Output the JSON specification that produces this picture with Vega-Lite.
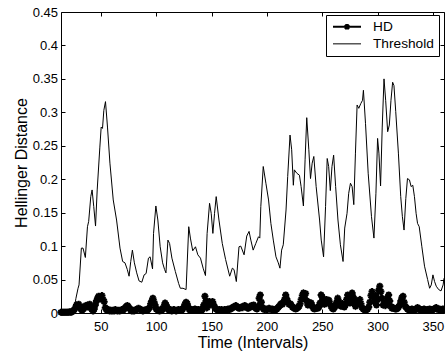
{
  "$schema": "https://vega.github.io/schema/vega-lite/v6.json",
  "width": 383,
  "height": 301,
  "autosize": {"type": "none"},
  "padding": {"left": 61, "top": 12, "right": 1, "bottom": 41},
  "config": {
    "font": "Liberation Sans",
    "view": {"stroke": "black", "strokeWidth": 1},
    "axis": {
      "grid": false,
      "domain": false,
      "tickColor": "black",
      "tickSize": -4,
      "tickWidth": 1,
      "labelColor": "black",
      "labelFont": "Liberation Sans",
      "labelFontSize": 13,
      "titleFont": "Liberation Sans",
      "titleFontSize": 16,
      "titleFontWeight": "normal",
      "titleColor": "black"
    }
  },
  "datasets": {
    "th": [
      {"t":14,"v":0.001},{"t":18,"v":0.001},{"t":22,"v":0.001},{"t":24,"v":0.002},{"t":25,"v":0.004},{"t":26.5,"v":0.012},{"t":27.5,"v":0.022},{"t":29.4,"v":0.037},{"t":30.3,"v":0.042},{"t":32.4,"v":0.097},{"t":33.9,"v":0.097},{"t":36,"v":0.083},{"t":37.9,"v":0.129},{"t":39,"v":0.137},{"t":40.9,"v":0.174},{"t":42.1,"v":0.184},{"t":43.6,"v":0.159},{"t":45.2,"v":0.13},{"t":46.7,"v":0.184},{"t":49.1,"v":0.248},{"t":50.3,"v":0.278},{"t":51.5,"v":0.276},{"t":52.7,"v":0.303},{"t":54.2,"v":0.316},{"t":56,"v":0.278},{"t":58.2,"v":0.224},{"t":61.2,"v":0.169},{"t":64.2,"v":0.139},{"t":67.3,"v":0.097},{"t":69.7,"v":0.077},{"t":71.8,"v":0.075},{"t":73.9,"v":0.065},{"t":75.5,"v":0.055},{"t":77,"v":0.077},{"t":78.5,"v":0.094},{"t":80.3,"v":0.075},{"t":82.4,"v":0.06},{"t":84.5,"v":0.048},{"t":87,"v":0.046},{"t":89.1,"v":0.057},{"t":90.9,"v":0.059},{"t":93,"v":0.082},{"t":94.5,"v":0.084},{"t":96.7,"v":0.066},{"t":97.6,"v":0.119},{"t":99.7,"v":0.16},{"t":101.5,"v":0.139},{"t":103.6,"v":0.099},{"t":105.8,"v":0.075},{"t":107.6,"v":0.065},{"t":108.8,"v":0.06},{"t":110.6,"v":0.109},{"t":112.1,"v":0.104},{"t":114.2,"v":0.082},{"t":117.3,"v":0.062},{"t":120.3,"v":0.044},{"t":121.8,"v":0.037},{"t":124.2,"v":0.037},{"t":127,"v":0.035},{"t":129.4,"v":0.129},{"t":130.9,"v":0.112},{"t":133,"v":0.093},{"t":135.5,"v":0.099},{"t":137.6,"v":0.087},{"t":140,"v":0.082},{"t":142.4,"v":0.067},{"t":144.5,"v":0.056},{"t":146,"v":0.119},{"t":148.2,"v":0.164},{"t":149.7,"v":0.149},{"t":151.2,"v":0.119},{"t":152.7,"v":0.149},{"t":154.2,"v":0.174},{"t":156.7,"v":0.139},{"t":159.7,"v":0.104},{"t":162.7,"v":0.08},{"t":166.4,"v":0.055},{"t":168.8,"v":0.067},{"t":170.3,"v":0.065},{"t":172.4,"v":0.047},{"t":174.8,"v":0.099},{"t":176.4,"v":0.1},{"t":179.4,"v":0.087},{"t":181.8,"v":0.115},{"t":183.9,"v":0.122},{"t":185.5,"v":0.109},{"t":187.6,"v":0.094},{"t":190,"v":0.104},{"t":192.4,"v":0.114},{"t":193.6,"v":0.112},{"t":194.5,"v":0.159},{"t":196.7,"v":0.219},{"t":199.1,"v":0.194},{"t":201.5,"v":0.169},{"t":203.6,"v":0.134},{"t":205.8,"v":0.109},{"t":208.2,"v":0.084},{"t":210.3,"v":0.075},{"t":211.8,"v":0.067},{"t":213.3,"v":0.094},{"t":214.8,"v":0.102},{"t":217.3,"v":0.154},{"t":218.8,"v":0.204},{"t":220.9,"v":0.266},{"t":222.4,"v":0.244},{"t":223.9,"v":0.191},{"t":224.8,"v":0.214},{"t":227,"v":0.209},{"t":229.4,"v":0.206},{"t":230.9,"v":0.189},{"t":233,"v":0.16},{"t":234.5,"v":0.229},{"t":236,"v":0.292},{"t":237.9,"v":0.244},{"t":239.4,"v":0.201},{"t":240.9,"v":0.224},{"t":242.4,"v":0.234},{"t":244.5,"v":0.189},{"t":247.6,"v":0.139},{"t":249.1,"v":0.109},{"t":251.2,"v":0.084},{"t":253,"v":0.159},{"t":254.5,"v":0.231},{"t":255.8,"v":0.219},{"t":257.3,"v":0.183},{"t":258.8,"v":0.219},{"t":260.3,"v":0.236},{"t":262.1,"v":0.189},{"t":264.2,"v":0.139},{"t":266.4,"v":0.102},{"t":268.8,"v":0.077},{"t":270.3,"v":0.127},{"t":272.4,"v":0.149},{"t":273.9,"v":0.179},{"t":275.5,"v":0.194},{"t":277,"v":0.189},{"t":278.5,"v":0.162},{"t":280,"v":0.239},{"t":281.5,"v":0.311},{"t":283,"v":0.306},{"t":284.8,"v":0.313},{"t":286.4,"v":0.318},{"t":287.2,"v":0.333},{"t":289.1,"v":0.283},{"t":291.5,"v":0.209},{"t":294.5,"v":0.144},{"t":296.7,"v":0.112},{"t":298.5,"v":0.179},{"t":300,"v":0.261},{"t":301.2,"v":0.239},{"t":302.7,"v":0.19},{"t":304.2,"v":0.278},{"t":305.8,"v":0.35},{"t":307.3,"v":0.318},{"t":309.1,"v":0.271},{"t":310.6,"v":0.281},{"t":312.1,"v":0.318},{"t":313.6,"v":0.345},{"t":314.8,"v":0.34},{"t":316.4,"v":0.301},{"t":318.8,"v":0.239},{"t":320.9,"v":0.174},{"t":322.4,"v":0.144},{"t":323.9,"v":0.124},{"t":325.5,"v":0.171},{"t":327,"v":0.201},{"t":328.8,"v":0.199},{"t":330.3,"v":0.189},{"t":331.8,"v":0.191},{"t":333.3,"v":0.174},{"t":334.8,"v":0.149},{"t":336.1,"v":0.134},{"t":337.6,"v":0.129},{"t":340,"v":0.099},{"t":342.4,"v":0.07},{"t":345.2,"v":0.05},{"t":347,"v":0.037},{"t":348.5,"v":0.042},{"t":350,"v":0.057},{"t":351.5,"v":0.047},{"t":353,"v":0.04},{"t":355.2,"v":0.035},{"t":357.3,"v":0.033},{"t":359.2,"v":0.042},{"t":360,"v":0.052}
    ],
    "hd": [
      {"t":14,"v":0.001},{"t":15,"v":0.001},{"t":16,"v":0.001},{"t":17,"v":0.001},{"t":18,"v":0.001},{"t":19,"v":0.001},{"t":20,"v":0.001},{"t":21,"v":0.001},{"t":22,"v":0.002},{"t":23,"v":0.001},{"t":24,"v":0.002},{"t":25,"v":0.003},
      {"t":26,"v":0.005},{"t":27,"v":0.008},{"t":28,"v":0.012},{"t":29,"v":0.010},{"t":30,"v":0.013},{"t":31,"v":0.009},{"t":32,"v":0.006},{"t":33,"v":0.004},{"t":34,"v":0.006},{"t":35,"v":0.010},{"t":36,"v":0.008},{"t":37,"v":0.011},{"t":38,"v":0.012},{"t":39,"v":0.009},{"t":40,"v":0.013},{"t":41,"v":0.010},{"t":42,"v":0.005},{"t":43,"v":0.003},{"t":44,"v":0.006},{"t":45,"v":0.012},{"t":46,"v":0.018},{"t":47,"v":0.022},{"t":48,"v":0.025},{"t":49,"v":0.021},{"t":50,"v":0.024},{"t":51,"v":0.026},{"t":52,"v":0.020},{"t":53,"v":0.017},{"t":54,"v":0.008},{"t":55,"v":0.005},{"t":56,"v":0.004},{"t":57,"v":0.005},{"t":58,"v":0.003},{"t":59,"v":0.004},{"t":60,"v":0.003},
      {"t":61,"v":0.004},{"t":62,"v":0.003},{"t":63,"v":0.005},{"t":64,"v":0.004},{"t":65,"v":0.003},{"t":66,"v":0.004},{"t":67,"v":0.003},{"t":68,"v":0.004},{"t":69,"v":0.005},{"t":70,"v":0.004},{"t":71,"v":0.006},{"t":72,"v":0.008},{"t":73,"v":0.010},{"t":74,"v":0.011},{"t":75,"v":0.009},{"t":76,"v":0.007},{"t":77,"v":0.004},{"t":78,"v":0.003},{"t":79,"v":0.004},{"t":80,"v":0.003},{"t":81,"v":0.004},{"t":82,"v":0.005},{"t":83,"v":0.006},{"t":84,"v":0.007},{"t":85,"v":0.006},{"t":86,"v":0.005},{"t":87,"v":0.004},{"t":88,"v":0.003},{"t":89,"v":0.004},
      {"t":90,"v":0.004},{"t":91,"v":0.005},{"t":92,"v":0.004},{"t":93,"v":0.006},{"t":94,"v":0.008},{"t":95,"v":0.014},{"t":96,"v":0.018},{"t":97,"v":0.022},{"t":98,"v":0.017},{"t":99,"v":0.012},{"t":100,"v":0.006},
      {"t":101,"v":0.005},{"t":102,"v":0.004},{"t":103,"v":0.003},{"t":104,"v":0.005},{"t":105,"v":0.004},{"t":106,"v":0.006},{"t":107,"v":0.010},{"t":108,"v":0.015},{"t":109,"v":0.012},{"t":110,"v":0.008},
      {"t":111,"v":0.005},{"t":112,"v":0.004},{"t":113,"v":0.005},{"t":114,"v":0.003},{"t":115,"v":0.004},{"t":116,"v":0.005},{"t":117,"v":0.004},{"t":118,"v":0.003},{"t":119,"v":0.004},{"t":120,"v":0.005},
      {"t":121,"v":0.004},{"t":122,"v":0.005},{"t":123,"v":0.004},{"t":124,"v":0.006},{"t":125,"v":0.009},{"t":126,"v":0.013},{"t":127,"v":0.016},{"t":128,"v":0.014},{"t":129,"v":0.009},{"t":130,"v":0.005},
      {"t":131,"v":0.004},{"t":132,"v":0.005},{"t":133,"v":0.004},{"t":134,"v":0.005},{"t":135,"v":0.006},{"t":136,"v":0.005},{"t":137,"v":0.004},{"t":138,"v":0.005},{"t":139,"v":0.004},{"t":140,"v":0.005},
      {"t":141,"v":0.004},{"t":142,"v":0.006},{"t":143,"v":0.012},{"t":144,"v":0.025},{"t":145,"v":0.018},{"t":146,"v":0.008},{"t":147,"v":0.012},{"t":148,"v":0.017},{"t":149,"v":0.013},{"t":150,"v":0.016},
      {"t":151,"v":0.017},{"t":152,"v":0.012},{"t":153,"v":0.008},{"t":154,"v":0.006},{"t":155,"v":0.005},{"t":156,"v":0.004},{"t":157,"v":0.005},{"t":158,"v":0.004},{"t":159,"v":0.005},{"t":160,"v":0.004},
      {"t":161,"v":0.004},{"t":162,"v":0.005},{"t":163,"v":0.004},{"t":164,"v":0.005},{"t":165,"v":0.006},{"t":166,"v":0.005},{"t":167,"v":0.006},{"t":168,"v":0.007},{"t":169,"v":0.008},{"t":170,"v":0.009},
      {"t":171,"v":0.010},{"t":172,"v":0.011},{"t":173,"v":0.009},{"t":174,"v":0.008},{"t":175,"v":0.007},{"t":176,"v":0.008},{"t":177,"v":0.009},{"t":178,"v":0.008},{"t":179,"v":0.010},{"t":180,"v":0.011},
      {"t":181,"v":0.010},{"t":182,"v":0.008},{"t":183,"v":0.007},{"t":184,"v":0.008},{"t":185,"v":0.009},{"t":186,"v":0.011},{"t":187,"v":0.010},{"t":188,"v":0.012},{"t":189,"v":0.009},{"t":190,"v":0.007},
      {"t":191,"v":0.006},{"t":192,"v":0.010},{"t":193,"v":0.022},{"t":194,"v":0.027},{"t":195,"v":0.016},{"t":196,"v":0.008},{"t":197,"v":0.006},{"t":198,"v":0.005},{"t":199,"v":0.006},{"t":200,"v":0.005},
      {"t":201,"v":0.006},{"t":202,"v":0.007},{"t":203,"v":0.006},{"t":204,"v":0.005},{"t":205,"v":0.006},{"t":206,"v":0.005},{"t":207,"v":0.004},{"t":208,"v":0.005},{"t":209,"v":0.006},{"t":210,"v":0.008},
      {"t":211,"v":0.010},{"t":212,"v":0.012},{"t":213,"v":0.014},{"t":214,"v":0.013},{"t":215,"v":0.016},{"t":216,"v":0.020},{"t":217,"v":0.027},{"t":218,"v":0.021},{"t":219,"v":0.016},{"t":220,"v":0.013},
      {"t":221,"v":0.014},{"t":222,"v":0.012},{"t":223,"v":0.009},{"t":224,"v":0.008},{"t":225,"v":0.007},{"t":226,"v":0.006},{"t":227,"v":0.007},{"t":228,"v":0.008},{"t":229,"v":0.010},{"t":230,"v":0.014},
      {"t":231,"v":0.020},{"t":232,"v":0.026},{"t":233,"v":0.030},{"t":234,"v":0.022},{"t":235,"v":0.029},{"t":236,"v":0.018},{"t":237,"v":0.012},{"t":238,"v":0.016},{"t":239,"v":0.014},{"t":240,"v":0.015},
      {"t":241,"v":0.010},{"t":242,"v":0.007},{"t":243,"v":0.006},{"t":244,"v":0.007},{"t":245,"v":0.008},{"t":246,"v":0.007},{"t":247,"v":0.009},{"t":248,"v":0.015},{"t":249,"v":0.027},{"t":250,"v":0.024},
      {"t":251,"v":0.020},{"t":252,"v":0.013},{"t":253,"v":0.017},{"t":254,"v":0.020},{"t":255,"v":0.016},{"t":256,"v":0.019},{"t":257,"v":0.014},{"t":258,"v":0.010},{"t":259,"v":0.007},{"t":260,"v":0.006},
      {"t":261,"v":0.008},{"t":262,"v":0.011},{"t":263,"v":0.016},{"t":264,"v":0.022},{"t":265,"v":0.017},{"t":266,"v":0.012},{"t":267,"v":0.010},{"t":268,"v":0.014},{"t":269,"v":0.012},{"t":270,"v":0.009},
      {"t":271,"v":0.012},{"t":272,"v":0.020},{"t":273,"v":0.027},{"t":274,"v":0.021},{"t":275,"v":0.015},{"t":276,"v":0.022},{"t":277,"v":0.030},{"t":278,"v":0.024},{"t":279,"v":0.014},{"t":280,"v":0.010},
      {"t":281,"v":0.018},{"t":282,"v":0.013},{"t":283,"v":0.015},{"t":284,"v":0.020},{"t":285,"v":0.014},{"t":286,"v":0.008},{"t":287,"v":0.006},{"t":288,"v":0.005},{"t":289,"v":0.004},{"t":290,"v":0.005},
      {"t":291,"v":0.006},{"t":292,"v":0.009},{"t":293,"v":0.016},{"t":294,"v":0.026},{"t":295,"v":0.032},{"t":296,"v":0.025},{"t":297,"v":0.018},{"t":298,"v":0.026},{"t":299,"v":0.012},{"t":300,"v":0.020},
      {"t":301,"v":0.034},{"t":302,"v":0.040},{"t":303,"v":0.032},{"t":304,"v":0.022},{"t":305,"v":0.012},{"t":306,"v":0.014},{"t":307,"v":0.011},{"t":308,"v":0.016},{"t":309,"v":0.022},{"t":310,"v":0.027},
      {"t":311,"v":0.018},{"t":312,"v":0.010},{"t":313,"v":0.007},{"t":314,"v":0.008},{"t":315,"v":0.007},{"t":316,"v":0.006},{"t":317,"v":0.006},{"t":318,"v":0.007},{"t":319,"v":0.009},{"t":320,"v":0.012},
      {"t":321,"v":0.018},{"t":322,"v":0.023},{"t":323,"v":0.025},{"t":324,"v":0.016},{"t":325,"v":0.010},{"t":326,"v":0.008},{"t":327,"v":0.006},{"t":328,"v":0.005},{"t":329,"v":0.004},{"t":330,"v":0.005},
      {"t":331,"v":0.006},{"t":332,"v":0.005},{"t":333,"v":0.004},{"t":334,"v":0.005},{"t":335,"v":0.006},{"t":336,"v":0.008},{"t":337,"v":0.007},{"t":338,"v":0.005},{"t":339,"v":0.004},{"t":340,"v":0.005},
      {"t":341,"v":0.004},{"t":342,"v":0.006},{"t":343,"v":0.005},{"t":344,"v":0.004},{"t":345,"v":0.005},{"t":346,"v":0.004},{"t":347,"v":0.006},{"t":348,"v":0.005},{"t":349,"v":0.004},{"t":350,"v":0.005},
      {"t":351,"v":0.006},{"t":352,"v":0.007},{"t":353,"v":0.008},{"t":354,"v":0.006},{"t":355,"v":0.005},{"t":356,"v":0.006},{"t":357,"v":0.004},{"t":358,"v":0.005},{"t":359,"v":0.006},{"t":360,"v":0.005}
    ]
  },
  "layer": [
    {
      "data": {"name": "th"},
      "mark": {"type": "line", "strokeWidth": 1, "interpolate": "linear"},
      "encoding": {
        "x": {"field": "t", "type": "quantitative", "scale": {"domain": [14, 360], "nice": false, "zero": false},
              "axis": {"orient": "bottom", "values": [50,100,150,200,250,300,350], "labelPadding": 11, "title": "Time (Intervals)", "titleBaseline": "alphabetic", "titleY": 34}},
        "y": {"field": "v", "type": "quantitative", "scale": {"domain": [0, 0.45], "nice": false},
              "axis": {"orient": "left", "values": [0,0.05,0.1,0.15,0.2,0.25,0.3,0.35,0.4,0.45], "format": "~g", "labelPadding": 7.5, "title": "Hellinger Distance", "titleBaseline": "alphabetic", "titleX": -35}},
        "color": {"datum": "Threshold", "type": "nominal",
          "scale": {"domain": ["HD", "Threshold"], "range": ["black", "black"]},
          "legend": {
            "orient": "none", "legendX": 265, "legendY": 3, "title": null,
            "strokeColor": "black", "fillColor": "white", "padding": 5,
            "labelFont": "Liberation Sans", "labelFontSize": 13.7, "labelColor": "black",
            "labelOffset": 12, "rowPadding": 2,
            "symbolType": "stroke", "symbolSize": 100, "symbolStrokeWidth": 1,
            "symbolFillColor": "transparent", "symbolStrokeColor": "black",
            "encode": {
              "symbols": {"update": {
                "x": {"value": 16},
                "shape": {"signal": "datum.value === 'HD' ? 'M-2.8,0H2.8M0,-0.55V0.55M-0.42,-0.42L0.42,0.42M-0.42,0.42L0.42,-0.42' : 'M-2.8,0H2.8'"},
                "strokeWidth": {"signal": "datum.value === 'HD' ? 2 : 1"}
              }},
              "labels": {"update": {"x": {"value": 42}}}
            }
          }}
      }
    },
    {
      "data": {"name": "hd"},
      "mark": {"type": "line", "strokeWidth": 2.5},
      "encoding": {
        "x": {"field": "t", "type": "quantitative", "axis": {"orient": "top", "values": [50,100,150,200,250,300,350], "labels": false, "title": null}},
        "y": {"field": "v", "type": "quantitative", "axis": {"orient": "right", "values": [0,0.05,0.1,0.15,0.2,0.25,0.3,0.35,0.4,0.45], "labels": false, "title": null}},
        "color": {"datum": "HD", "type": "nominal"}
      }
    },
    {
      "data": {"name": "hd"},
      "mark": {"type": "point", "shape": "M-1,0H1M0,-1V1M-0.7,-0.7L0.7,0.7M-0.7,0.7L0.7,-0.7", "size": 50, "filled": false, "stroke": "black", "strokeWidth": 2, "opacity": 1},
      "encoding": {
        "x": {"field": "t", "type": "quantitative", "axis": null},
        "y": {"field": "v", "type": "quantitative", "axis": null}
      }
    }
  ],
  "resolve": {"axis": {"x": "independent", "y": "independent"}}
}
